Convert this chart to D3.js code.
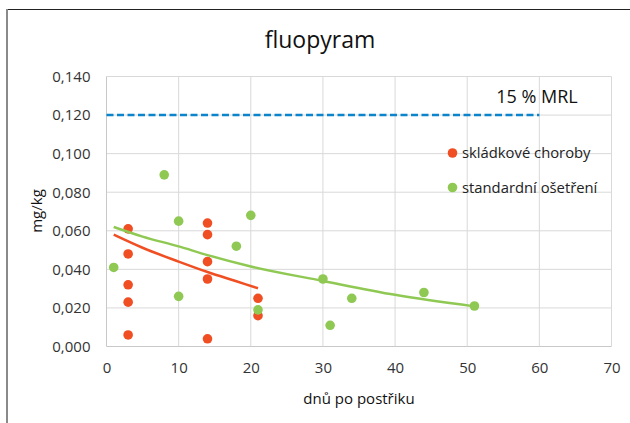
<!DOCTYPE html>
<html>
<head>
<meta charset="utf-8">
<script src="https://cdn.jsdelivr.net/npm/d3@7/dist/d3.min.js"></script>
<style>
  html, body { margin: 0; padding: 0; background: #fff; }
  svg { display: block; font-family: "Open Sans", "Noto Sans", sans-serif; }
</style>
</head>
<body>
<svg id="chart" width="630" height="423"></svg>
<script>
// Residues of fluopyram (mg/kg) by days after spraying
const redDays   = [3, 3, 3, 3, 3, 14, 14, 14, 14, 14, 21, 21];
const redValues = [0.061, 0.048, 0.032, 0.023, 0.006, 0.064, 0.058, 0.044, 0.035, 0.004, 0.025, 0.016];

const greenDays   = [1, 8, 10, 10, 18, 20, 21, 30, 31, 34, 44, 51];
const greenValues = [0.041, 0.089, 0.065, 0.026, 0.052, 0.068, 0.019, 0.035, 0.011, 0.025, 0.028, 0.021];

// Trend curves
const redTrendDays   = [1, 5, 10, 14, 18, 21];
const redTrendValues = [0.0580, 0.0512, 0.0440, 0.0386, 0.0338, 0.0302];
const greenTrendDays   = [1, 5, 10, 14, 20, 30, 40, 51];
const greenTrendValues = [0.0620, 0.0570, 0.0519, 0.0474, 0.0415, 0.0340, 0.0268, 0.0208];

// 15 % MRL reference level
const mrlDays  = [0, 60];
const mrlValue = 0.120;

const xTicks = [0, 10, 20, 30, 40, 50, 60, 70];
const yTicks = [0, 0.02, 0.04, 0.06, 0.08, 0.10, 0.12, 0.14];

const seriesNames = ["skládkové choroby", "standardní ošetření"];
const titleText = "fluopyram";
const xTitle = "dnů po postřiku";
const yTitle = "mg/kg";
const mrlLabel = "15 % MRL";

const RED = "#f04e23";
const GREEN = "#8fc954";
const BLUE = "#0b84cc";

const svg = d3.select("#chart");

const x = d3.scaleLinear().domain([0, 70]).range([106.5, 611.5]);
const y = d3.scaleLinear().domain([0, 0.14]).range([346.5, 76.5]);

// outer frame
svg.append("line").attr("x1", 7).attr("x2", 630).attr("y1", 9.5).attr("y2", 9.5)
  .attr("stroke", "#222").attr("stroke-width", 1.2);
svg.append("line").attr("x1", 7).attr("x2", 7).attr("y1", 9).attr("y2", 423)
  .attr("stroke", "#8a8a8a").attr("stroke-width", 2);

// title
svg.append("text").attr("x", 320).attr("y", 48).attr("text-anchor", "middle")
  .attr("font-size", 23).attr("fill", "#111").text(titleText);

// grid
const grid = svg.append("g");
grid.selectAll(".gy").data(yTicks).join("line")
  .attr("x1", x(0)).attr("x2", x(70))
  .attr("y1", d => y(d)).attr("y2", d => y(d))
  .attr("stroke", d => d === 0 ? "#c8c8c8" : "#d9d9d9").attr("stroke-width", 1);
grid.selectAll(".gx").data(xTicks).join("line")
  .attr("x1", d => x(d)).attr("x2", d => x(d))
  .attr("y1", y(0)).attr("y2", y(0.14))
  .attr("stroke", d => d === 0 ? "#c8c8c8" : "#d9d9d9").attr("stroke-width", 1);

// tick labels via d3 axes
const fmt = d => d3.format(".3f")(d).replace(".", ",");
const yAxis = svg.append("g").attr("transform", `translate(${x(0)},0)`)
  .call(d3.axisLeft(y).tickValues(yTicks).tickFormat(fmt).tickSize(0).tickPadding(16));
yAxis.select(".domain").remove();
yAxis.selectAll("text").attr("font-family", "Open Sans").attr("font-size", 15).attr("fill", "#333");

const xAxis = svg.append("g").attr("transform", `translate(0,${y(0)})`)
  .call(d3.axisBottom(x).tickValues(xTicks).tickFormat(d3.format("d")).tickSize(0).tickPadding(16));
xAxis.select(".domain").remove();
xAxis.selectAll("text").attr("font-family", "Open Sans").attr("font-size", 15).attr("fill", "#333");

// axis titles
svg.append("text").attr("x", 359).attr("y", 404).attr("text-anchor", "middle")
  .attr("font-size", 15).attr("fill", "#111").text(xTitle);
svg.append("text").attr("transform", "translate(42,211) rotate(-90)")
  .attr("text-anchor", "middle").attr("font-size", 15).attr("fill", "#111").text(yTitle);

// MRL line
svg.append("line")
  .attr("x1", x(mrlDays[0])).attr("x2", x(mrlDays[1]))
  .attr("y1", y(mrlValue)).attr("y2", y(mrlValue))
  .attr("stroke", BLUE).attr("stroke-width", 2.5).attr("stroke-dasharray", "7,3.5");
svg.append("text").attr("x", 537).attr("y", 103).attr("text-anchor", "middle")
  .attr("font-size", 18).attr("fill", "#111").text(mrlLabel);

// points
const pts = svg.append("g");
pts.selectAll(".r").data(redDays.map((d, i) => [d, redValues[i]])).join("circle")
  .attr("cx", d => x(d[0])).attr("cy", d => y(d[1])).attr("r", 4.8).attr("fill", RED);
pts.selectAll(".g").data(greenDays.map((d, i) => [d, greenValues[i]])).join("circle")
  .attr("cx", d => x(d[0])).attr("cy", d => y(d[1])).attr("r", 4.8).attr("fill", GREEN);

// trend curves
const line = d3.line().x(d => x(d[0])).y(d => y(d[1])).curve(d3.curveMonotoneX);
svg.append("path").datum(redTrendDays.map((d, i) => [d, redTrendValues[i]]))
  .attr("d", line).attr("fill", "none").attr("stroke", RED).attr("stroke-width", 2.5);
svg.append("path").datum(greenTrendDays.map((d, i) => [d, greenTrendValues[i]]))
  .attr("d", line).attr("fill", "none").attr("stroke", GREEN).attr("stroke-width", 2.5);

// legend
const legend = svg.append("g");
[RED, GREEN].forEach((c, i) => {
  const ly = 153 + i * 34.5;
  legend.append("circle").attr("cx", 452.5).attr("cy", ly).attr("r", 4.8).attr("fill", c);
  legend.append("text").attr("x", 462).attr("y", ly + 5).attr("font-size", 14.8)
    .attr("fill", "#222").text(seriesNames[i]);
});
</script>
</body>
</html>
